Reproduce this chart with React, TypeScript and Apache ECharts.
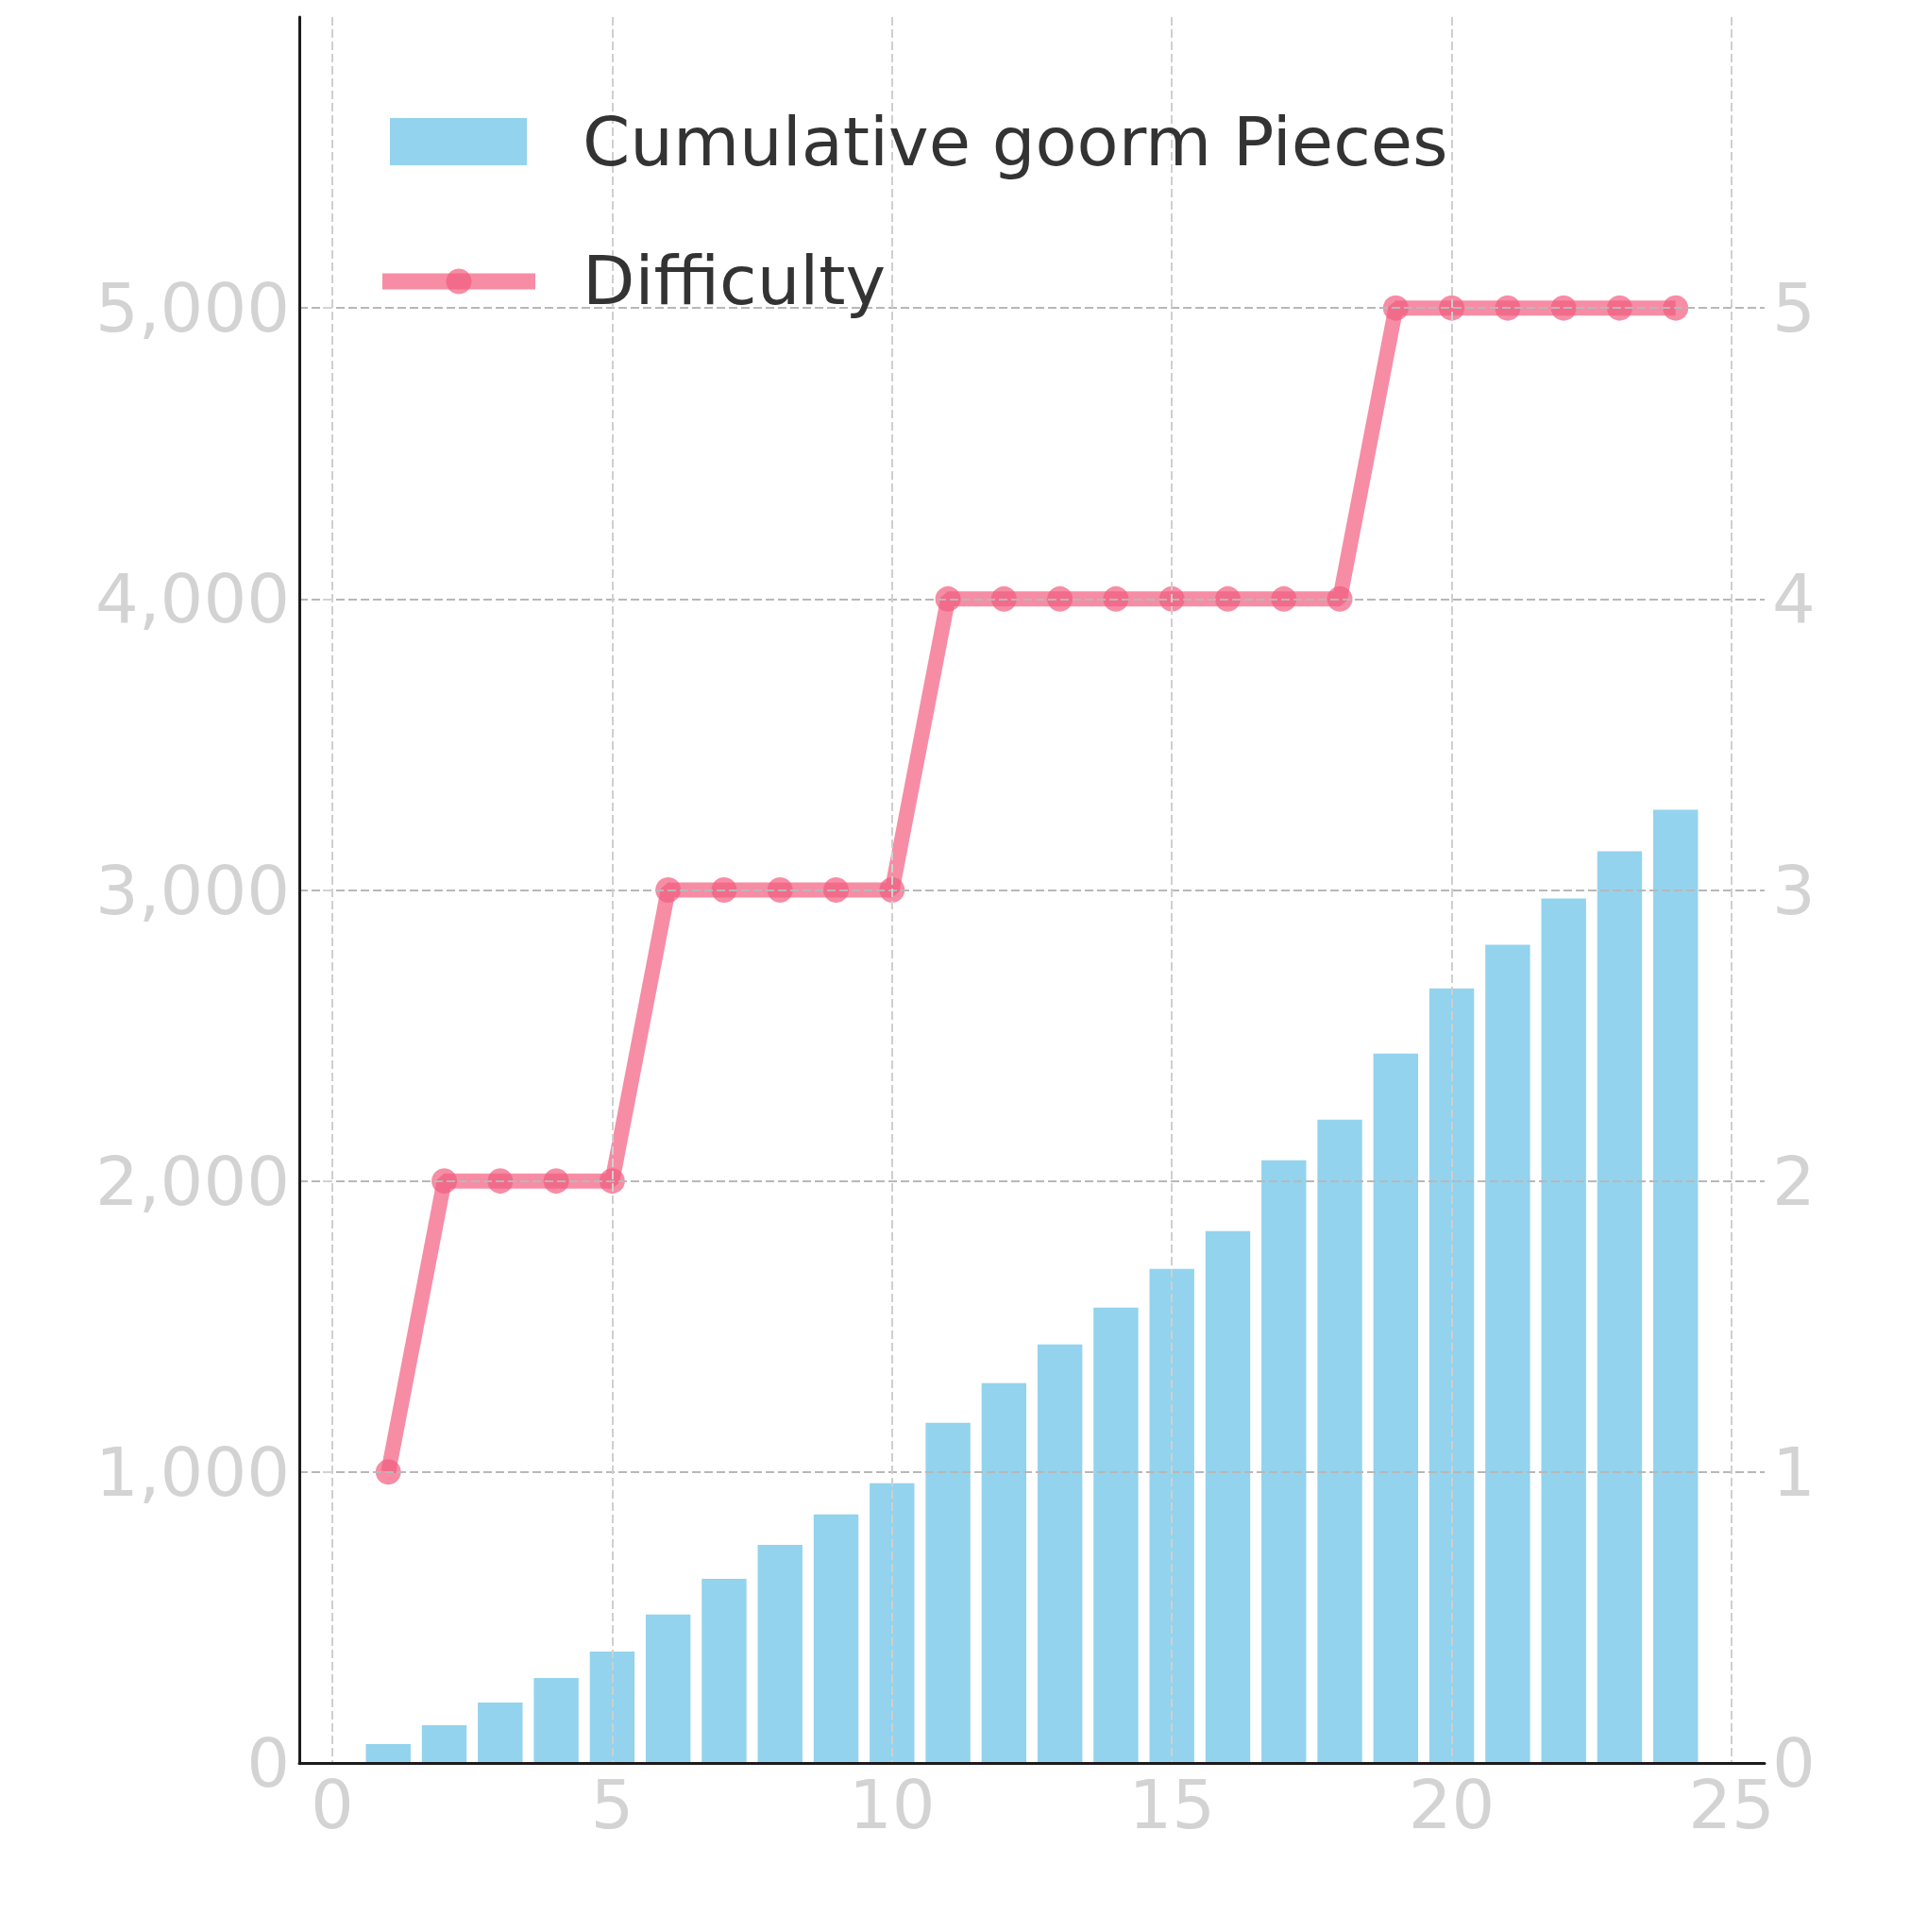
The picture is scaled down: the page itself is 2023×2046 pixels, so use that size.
import React, { useEffect, useRef } from "react";
import * as echarts from "echarts";

const steps = [1, 2, 3, 4, 5, 6, 7, 8, 9, 10, 11, 12, 13, 14, 15, 16, 17, 18, 19, 20, 21, 22, 23, 24];
const cumulativePieces = [65, 130, 208, 292, 383, 510, 633, 750, 854, 961, 1169, 1305, 1438, 1565, 1698, 1828, 2071, 2211, 2438, 2662, 2812, 2971, 3133, 3276];
const difficulty = [1, 2, 2, 2, 2, 3, 3, 3, 3, 3, 4, 4, 4, 4, 4, 4, 4, 4, 5, 5, 5, 5, 5, 5];
const seriesNames = ["Cumulative goorm Pieces", "Difficulty"];

const FONT = "DejaVu Sans";
const TICK_COLOR = "#d3d3d3";
const BAR_COLOR = "rgba(135,206,235,0.9)";
const LINE_COLOR = "rgba(242,92,127,0.7)";

export default function App() {
  const ref = useRef<HTMLDivElement>(null);
  useEffect(() => {
    const chart = echarts.init(ref.current!, null, { renderer: "svg" });
    const option = {
      animation: false,
      backgroundColor: "#ffffff",
      grid: [
        { left: 317, top: 18, width: 1552, height: 1849 },
        { left: 352, top: 18, width: 1482, height: 1849 },
      ],
      xAxis: [
        {
          type: "value",
          gridIndex: 0,
          min: -0.59,
          max: 25.59,
          axisLine: { show: true, onZero: false, lineStyle: { color: "#1c1c1c", width: 3 } },
          axisTick: { show: false },
          axisLabel: { show: false },
          splitLine: { show: false },
          z: 11,
        },
        {
          type: "value",
          gridIndex: 1,
          min: 0,
          max: 25,
          interval: 5,
          axisLine: { show: false },
          axisTick: { show: false },
          axisLabel: { show: true, color: TICK_COLOR, fontSize: 72, fontFamily: FONT, margin: 8 },
          splitLine: { show: true, lineStyle: { color: "#cfcfcf", width: 2, type: [9, 4] } },
          z: 10,
        },
      ],
      yAxis: [
        {
          type: "value",
          gridIndex: 0,
          position: "left",
          min: 0,
          max: 6000,
          interval: 1000,
          axisLine: { show: true, onZero: false, lineStyle: { color: "#1c1c1c", width: 3 } },
          axisTick: { show: false },
          axisLabel: {
            show: true,
            color: TICK_COLOR,
            fontSize: 72,
            fontFamily: FONT,
            margin: 10,
            showMaxLabel: false,
            formatter: (v: number) => v.toLocaleString("en-US"),
          },
          splitLine: {
            show: true,
            showMinLine: false,
            showMaxLine: false,
            lineStyle: { color: "#b8b8b8", width: 2, type: [9, 4] },
          },
          z: 10,
        },
        {
          type: "value",
          gridIndex: 0,
          position: "right",
          min: 0,
          max: 6,
          interval: 1,
          axisLine: { show: false },
          axisTick: { show: true, inside: true, length: 10, lineStyle: { color: TICK_COLOR, width: 2 } },
          axisLabel: {
            show: true,
            color: TICK_COLOR,
            fontSize: 72,
            fontFamily: FONT,
            margin: 8,
            showMaxLabel: false,
          },
          splitLine: { show: false },
          z: 10,
        },
        {
          type: "value",
          gridIndex: 1,
          min: 0,
          max: 6000,
          show: false,
        },
      ],
      series: [
        {
          name: seriesNames[0],
          type: "bar",
          xAxisIndex: 0,
          yAxisIndex: 0,
          barWidth: 47.4,
          itemStyle: { color: BAR_COLOR },
          data: steps.map((s, i) => [s, cumulativePieces[i]]),
          z: 2,
        },
        {
          name: seriesNames[1],
          type: "line",
          xAxisIndex: 0,
          yAxisIndex: 1,
          symbol: "circle",
          symbolSize: 27,
          lineStyle: { color: LINE_COLOR, width: 16 },
          itemStyle: { color: LINE_COLOR },
          data: steps.map((s, i) => [s, difficulty[i]]),
          z: 3,
        },
      ],
      graphic: [
        {
          type: "rect",
          shape: { x: 413, y: 125, width: 145, height: 50 },
          style: { fill: BAR_COLOR },
          z: 20,
        },
        {
          type: "line",
          shape: { x1: 405, y1: 298, x2: 567, y2: 298 },
          style: { stroke: LINE_COLOR, lineWidth: 17, lineCap: "butt" },
          z: 20,
        },
        {
          type: "circle",
          shape: { cx: 486, cy: 298, r: 13.5 },
          style: { fill: LINE_COLOR },
          z: 21,
        },
        {
          type: "text",
          x: 617,
          y: 150,
          style: {
            text: seriesNames[0],
            fill: "#333333",
            font: `72px "${FONT}"`,
            verticalAlign: "middle",
            align: "left",
          },
          z: 20,
        },
        {
          type: "text",
          x: 617,
          y: 297,
          style: {
            text: seriesNames[1],
            fill: "#333333",
            font: `72px "${FONT}"`,
            verticalAlign: "middle",
            align: "left",
          },
          z: 20,
        },
      ],
    };
    chart.setOption(option as any);
    return () => chart.dispose();
  }, []);
  return (
    <div
      ref={ref}
      style={{ position: "absolute", left: 0, top: 0, width: 2023, height: 2046, background: "#fff" }}
    />
  );
}
